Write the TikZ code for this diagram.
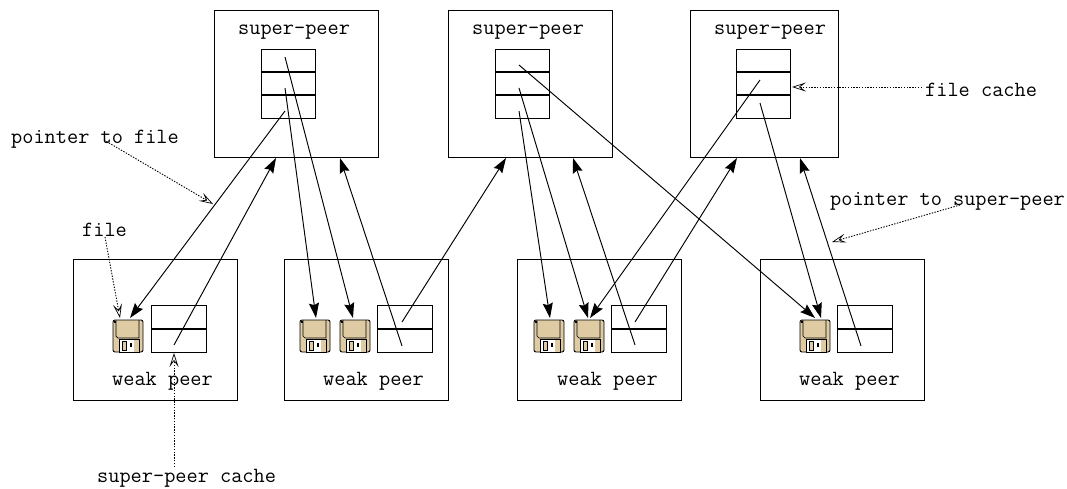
\documentclass[tikz,border=0pt]{standalone}
\usepackage{fontspec}
\usetikzlibrary{arrows.meta,calc}
\definecolor{floppy}{RGB}{222,203,164}
\tikzset{
 x=1pt,y=-1pt,
 peerbox/.style={draw,line width=.95pt,anchor=north west,inner sep=0pt,outer sep=0pt},
 label/.style={inner sep=0pt,anchor=base west,yshift=-1pt,font=\ttfamily\fontsize{21.7pt}{23pt}\selectfont},
 ptr/.style={line width=.95pt,-{Stealth[length=15pt,width=10pt,inset=2pt]}},
 leader/.style={line width=.9pt,dash pattern=on 1.4pt off 1.4pt,-{Stealth[open,length=14pt,width=9pt,inset=6pt,fill=white,line width=.7pt]}},
 diskpic/.pic={
  \draw[line width=.9pt,fill=floppy,rounded corners=2pt] (0,0) rectangle (30,32);
  \draw[line width=.7pt] (3,0) -- (3,16) -- (5,18) -- (26,18) -- (26,0);
  \draw[line width=.7pt,fill=white] (6,19) rectangle (26,32);
  \fill[floppy,draw=black,line width=.5pt] (9,21) rectangle (13,30);
  \fill[floppy] (21,20) rectangle (25.5,31.5);
  \fill (17,23) rectangle (19,27);
  \fill (1,1) rectangle (3,3);
 }
}
\newcommand{\scache}[2]{%
 \node[peerbox,minimum width=54pt,minimum height=69pt] (#1) at (#2,49) {};
 \draw[line width=1.4pt] (#2,72) -- +(54,0);
 \draw[line width=1.4pt] (#2,95) -- +(54,0);
}
\newcommand{\wcache}[2]{%
 \node[peerbox,minimum width=55pt,minimum height=47pt] (#1) at (#2,305) {};
 \draw[line width=1.4pt] (#2,329) -- +(55,0);
}
\begin{document}
\begin{tikzpicture}
\useasboundingbox (0,0) rectangle (1067,488);
% super-peers
\node[peerbox,minimum width=164pt,minimum height=147pt] (s1) at (214,10) {};
\node[peerbox,minimum width=164pt,minimum height=147pt] (s2) at (448,10) {};
\node[peerbox,minimum width=148pt,minimum height=147pt] (s3) at (690,10) {};
\scache{c1}{261}
\scache{c2}{495}
\scache{c3}{736}
% weak peers
\node[peerbox,minimum width=164pt,minimum height=141pt] (w1) at (73,259) {};
\node[peerbox,minimum width=164pt,minimum height=141pt] (w2) at (284,259) {};
\node[peerbox,minimum width=164pt,minimum height=141pt] (w3) at (517,259) {};
\node[peerbox,minimum width=164pt,minimum height=141pt] (w4) at (760,259) {};
\wcache{d1}{151}
\wcache{d2}{377}
\wcache{d3}{611}
\wcache{d4}{837}
% floppies
\pic at (113,320) {diskpic};
\pic at (300,320) {diskpic};
\pic at (340,320) {diskpic};
\pic at (534,320) {diskpic};
\pic at (574,320) {diskpic};
\pic at (800,320) {diskpic};
% labels
\node[label] (ls1) at (238,33) {super-peer};
\node[label] (ls2) at (472,33) {super-peer};
\node[label] (ls3) at (714,33) {super-peer};
\node[label] (lw1) at (112,384) {weak peer};
\node[label] (lw2) at (323,384) {weak peer};
\node[label] (lw3) at (557,384) {weak peer};
\node[label] (lw4) at (799,384) {weak peer};
\node[label] (lpf) at (11,142) {pointer to file};
\node[label] (lf) at (82,235) {file};
\node[label] (lspc) at (97,481.5) {super-peer cache};
\node[label] (lfc) at (925,95) {file cache};
\node[label] (lps) at (830,204) {pointer to super-peer};
% named connector ends
\foreach \n/\x/\y in {
 a1/285/57,a2/285/88,a3/285/111,
 b1/519/65,b2/519/88,b3/519/111,
 e1/760/80,e2/760/103,
 f1/130/318,f2/316/318,f3/353/318,f4/550/318,f5/588/318,f6/590/318,f7/815/318,f8/821/318,
 g1/174/345,g2/402/322,g3/402/346,g4/635/322,g5/635/345,g6/861/346,
 h1/276/158,h2/340/158,h3/506/158,h4/573/158,h5/737/158,h6/800/158,
 q1/104/140,q2/213/204,q3/105/237,q4/120/318,q5/174/467,q6/174/353,q7/922/87,q8/792/87,q9/960/205,q10/832/242}
 {\coordinate (\n) at (\x,\y);}
% pointers
\draw[ptr] (a3) -- (f1);
\draw[ptr] (a2) -- (f2);
\draw[ptr] (a1) -- (f3);
\draw[ptr] (b3) -- (f4);
\draw[ptr] (b2) -- (f5);
\draw[ptr] (b1) -- (f7);
\draw[ptr] (e1) -- (f6);
\draw[ptr] (e2) -- (f8);
\draw[ptr] (g1) -- (h1);
\draw[ptr] (g3) -- (h2);
\draw[ptr] (g2) -- (h3);
\draw[ptr] (g5) -- (h4);
\draw[ptr] (g4) -- (h5);
\draw[ptr] (g6) -- (h6);
% leaders
\draw[leader] (q1) -- (q2);
\draw[leader] (q3) -- (q4);
\draw[leader] (q5) -- (q6);
\draw[leader] (q7) -- (q8);
\draw[leader] (q9) -- (q10);
\end{tikzpicture}
\end{document}
